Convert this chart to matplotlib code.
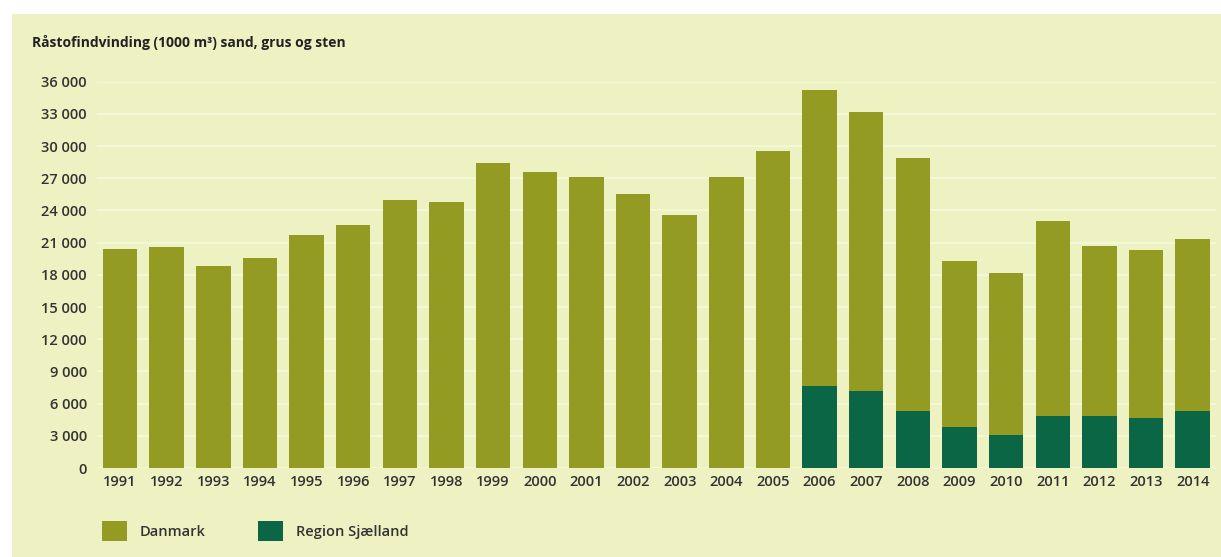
import matplotlib.pyplot as plt
from matplotlib.patches import Patch, Rectangle

years = [str(y) for y in range(1991, 2015)]
danmark = [20400, 20600, 18800, 19600, 21700, 22600, 25000, 24800, 28400, 27600,
           27100, 25500, 23600, 27100, 29500, 35200, 33200, 28900, 19300, 18200,
           23000, 20700, 20300, 21300]
sjaelland = [None] * 15 + [7600, 7200, 5300, 3850, 3100, 4850, 4850, 4700, 5300]
yticks = list(range(0, 36001, 3000))
ytick_labels = ["0"] + [f"{v // 1000} 000" for v in yticks[1:]]

panel = "#eef2c2"
olive = "#949b22"
dark = "#0b6646"

plt.rcParams["font.family"] = ["Open Sans", "DejaVu Sans"]

fig = plt.figure(figsize=(12.21, 5.57), dpi=100)
fig.patch.set_facecolor("white")
# light background panel behind the chart
fig.patches.append(Rectangle((12 / 1221, 0), 1, 1 - 14 / 557, transform=fig.transFigure,
                             facecolor=panel, edgecolor="none", zorder=-10))

ax = fig.add_axes([96.7 / 1221, 1 - 468 / 557, (1216 - 96.7) / 1221, (468 - 81.7) / 557])
ax.set_facecolor("none")

x = list(range(len(years)))
ax.bar(x, danmark, width=0.74, color=olive, zorder=3)
sj_x = [i for i, v in enumerate(sjaelland) if v is not None]
sj_v = [v for v in sjaelland if v is not None]
ax.bar(sj_x, sj_v, width=0.74, color=dark, zorder=4)

ax.set_xlim(-0.5, len(years) - 0.5)
ax.set_ylim(0, 36000)
ax.set_yticks(yticks)
ax.set_yticklabels(ytick_labels)
ax.set_xticks(x)
ax.set_xticklabels(years)
ax.tick_params(length=0, labelsize=10.5, colors="#333333")
ax.tick_params(axis="y", pad=7)
ax.tick_params(axis="x", pad=5)
for lbl in ax.get_xticklabels() + ax.get_yticklabels():
    lbl.set_fontweight("semibold")
for s in ax.spines.values():
    s.set_visible(False)
ax.yaxis.grid(True, color="#f5f8d8", linewidth=1.3, zorder=0)
ax.set_axisbelow(True)

fig.text(32 / 1221, 1 - 42 / 557, "Råstofindvinding (1000 m³) sand, grus og sten",
         fontsize=10, fontweight="bold", color="#222222", va="center", ha="left")

handles = [Patch(facecolor=olive, label="Danmark"),
           Patch(facecolor=dark, label="Region Sjælland")]
fig.legend(handles=handles, loc="center left", bbox_to_anchor=(102 / 1221, 1 - 531 / 557),
           ncol=2, frameon=False, handlelength=1.7, handleheight=1.7,
           handletextpad=0.9, columnspacing=3.6, borderpad=0, borderaxespad=0,
           labelcolor="#333333", prop={"weight": "semibold", "size": 10.5})

fig.savefig("out.png", dpi=100)
